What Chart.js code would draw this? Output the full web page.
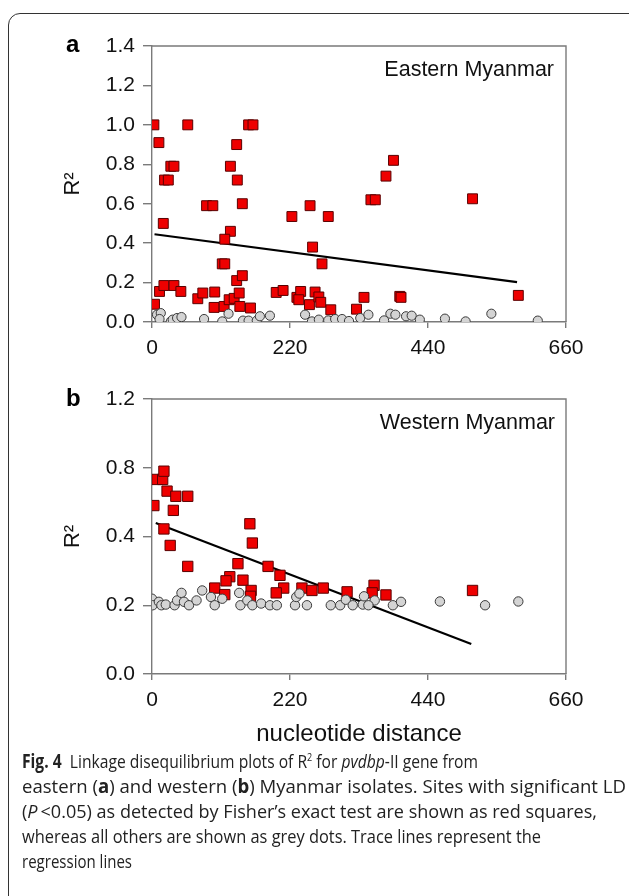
<!DOCTYPE html>
<html>
<head>
<meta charset="utf-8">
<script src="https://cdn.jsdelivr.net/npm/chart.js@4.4.1/dist/chart.umd.min.js"></script>
<style>
    body { margin: 0; background: #fff; width: 629px; height: 896px; overflow: hidden; position: relative; }
    .frame { position: absolute; left: 8px; top: 13px; width: 700px; height: 1000px; border: 1.5px solid #333; border-radius: 12px; }
    canvas { position: absolute; left: 0; }
    .panel { position: absolute; font-family: 'Liberation Sans', Arial, sans-serif; font-weight: bold; font-size: 24px; line-height: 28px; }
    .inset { position: absolute; font-family: 'Liberation Sans', Arial, sans-serif; font-size: 21.5px; line-height: 24px; color: #111; white-space: nowrap; }
    .caption { position: absolute; left: 22px; top: 749px; font-family: 'Open Sans', 'Noto Sans', sans-serif; font-size: 19px; line-height: 25px; color: #222; white-space: nowrap; }
    .caption span { display: block; transform-origin: 0 50%; width: max-content; }
    .caption sup { font-size: 11px; line-height: 0; }
</style>
</head>
<body>
<div class="frame"></div>
<canvas id="chartA" width="629" height="360" style="top:0"></canvas>
<canvas id="chartB" width="629" height="400" style="top:360px"></canvas>
<div class="panel" style="left:66px;top:30px">a</div>
<div class="panel" style="left:66px;top:384px">b</div>
<div class="inset" style="right:75px;top:57px">Eastern Myanmar</div>
<div class="inset" style="right:74px;top:410px">Western Myanmar</div>
<div class="caption">
    <span data-end="478"><b>Fig. 4</b>&nbsp; Linkage disequilibrium plots of R<sup>2</sup> for <i>pvdbp</i>-II gene from</span>
    <span data-end="626">eastern (<b>a</b>) and western (<b>b</b>) Myanmar isolates. Sites with significant LD</span>
    <span data-end="597">(<i>P</i>&thinsp;&lt;0.05) as detected by Fisher’s exact test are shown as red squares,</span>
    <span data-end="541">whereas all others are shown as grey dots. Trace lines represent the</span>
    <span data-end="132">regression lines</span>
</div>
<script>
// x axis (shared)
const xTickValues = [0, 220, 440, 660];

// panel a - eastern Myanmar
const yTickValuesA = [0, 0.2, 0.4, 0.6, 0.8, 1.0, 1.2, 1.4];
const yTickLabelsA = ['0.0', '0.2', '0.4', '0.6', '0.8', '1.0', '1.2', '1.4'];

// significant LD (red squares)
const eastSigDist = [3, 11, 20, 26, 30, 35, 18, 57, 154, 161, 135, 125, 136, 87, 97, 144, 125, 116, 112, 116, 135, 144,
    223, 252, 281, 256, 271, 349, 356, 373, 385, 511, 584, 395, 397, 338, 326, 285,
    4, 12, 19, 35, 46, 73, 81, 100, 99, 115, 123, 131, 139, 140, 157, 198, 209, 231, 237, 234, 251, 260, 266, 269];
const eastSigR2 = [1.0, 0.91, 0.72, 0.72, 0.79, 0.79, 0.50, 1.0, 1.0, 1.0, 0.90, 0.79, 0.72, 0.59, 0.59, 0.60, 0.46, 0.42, 0.295, 0.295, 0.21, 0.235,
    0.535, 0.59, 0.535, 0.38, 0.295, 0.62, 0.62, 0.74, 0.82, 0.625, 0.135, 0.13, 0.125, 0.125, 0.065, 0.062,
    0.09, 0.155, 0.185, 0.185, 0.155, 0.118, 0.147, 0.152, 0.074, 0.079, 0.113, 0.12, 0.147, 0.079, 0.071, 0.15, 0.16, 0.125, 0.155, 0.113, 0.088, 0.152, 0.127, 0.10];

// other sites (grey dots)
const eastNsDist = [8, 14, 12, 30, 33, 40, 47, 83, 112, 122, 145, 154, 167, 172, 188, 244, 255, 266, 281, 292, 303, 314,
    332, 345, 370, 380, 388, 405, 414, 427, 467, 500, 541, 615];
const eastNsR2 = [0.037, 0.045, 0.015, 0.003, 0.012, 0.02, 0.025, 0.015, 0.003, 0.042, 0.007, 0.007, 0.007, 0.029, 0.032, 0.037, 0.003, 0.012, 0.008, 0.015, 0.015, 0.005,
    0.02, 0.037, 0.008, 0.042, 0.037, 0.029, 0.032, 0.012, 0.017, 0.003, 0.042, 0.007];

// regression line
const eastFitDist = [4, 582];
const eastFitR2 = [0.445, 0.202];

// panel b - western Myanmar (axis labels as printed in the figure)
const yTickValuesB = [0, 0.2, 0.4, 0.6, 0.8];
const yTickLabelsB = ['0.0', '0.2', '0.4', '0.8', '1.2'];

const westSigDist = [3, 8, 17, 19, 24, 38, 57, 34, 19, 29, 57, 156, 160, 137, 124, 118, 100, 145, 158, 157, 185, 204, 210, 198,
    239, 255, 273, 311, 354, 351, 373, 511, 116];
const westSigR2 = [0.49, 0.566, 0.566, 0.59, 0.532, 0.517, 0.517, 0.476, 0.422, 0.374, 0.313, 0.437, 0.381, 0.321, 0.283, 0.271, 0.25, 0.273, 0.243, 0.226, 0.313, 0.287, 0.25, 0.236,
    0.25, 0.243, 0.25, 0.239, 0.258, 0.236, 0.23, 0.243, 0.231];

const westNsDist = [0, 1, 11, 15, 22, 36, 40, 47, 51, 59, 71, 80, 94, 100, 112, 139, 141, 152, 160, 174, 188, 199, 228, 230, 235,
    247, 285, 300, 309, 320, 336, 338, 355, 345, 384, 397, 459, 531, 584];
const westNsR2 = [0.219, 0.2, 0.21, 0.2, 0.202, 0.2, 0.214, 0.236, 0.21, 0.2, 0.214, 0.243, 0.224, 0.2, 0.219, 0.236, 0.2, 0.214, 0.2, 0.205, 0.2, 0.2, 0.2, 0.224, 0.234,
    0.2, 0.2, 0.2, 0.216, 0.2, 0.202, 0.226, 0.214, 0.2, 0.2, 0.21, 0.211, 0.2, 0.211];

const westFitDist = [6, 509];
const westFitR2 = [0.439, 0.087];

const tickFont = { family: "'Liberation Sans', Arial, sans-serif", size: 21 };
const axisColor = '#7a7a7a';

// caption lines: squeeze each one to the width it has in the figure
document.querySelectorAll('.caption span').forEach(el => {
    const w = el.getBoundingClientRect().width;
    const target = Number(el.dataset.end) - 22;
    el.style.transform = `scaleX(${target / w})`;
});

function toPoints(xs, ys) {
    return xs.map((x, i) => ({ x: x, y: ys[i] }));
}

// grey frame round the plot area (top and right sides)
const framePlugin = {
    id: 'plotFrame',
    afterDraw(chart) {
        const { ctx, chartArea } = chart;
        ctx.save();
        ctx.strokeStyle = axisColor;
        ctx.lineWidth = 1.4;
        ctx.beginPath();
        ctx.moveTo(chartArea.left, chartArea.top);
        ctx.lineTo(chartArea.right, chartArea.top);
        ctx.lineTo(chartArea.right, chartArea.bottom);
        ctx.stroke();
        ctx.restore();
    }
};

function makeChart(canvasId, cfg) {
    const ctx = document.getElementById(canvasId).getContext('2d');
    return new Chart(ctx, {
        type: 'scatter',
        data: {
            datasets: [
                {
                    label: 'others',
                    data: toPoints(cfg.nsDist, cfg.nsR2),
                    pointStyle: 'circle',
                    pointRadius: cfg.dotRadius,
                    backgroundColor: '#d4d4d4',
                    borderColor: '#3a3a3a',
                    borderWidth: 1,
                    order: 0
                },
                {
                    label: 'significant',
                    data: toPoints(cfg.sigDist, cfg.sigR2),
                    pointStyle: 'rect',
                    pointRadius: cfg.squareRadius,
                    backgroundColor: '#ee0000',
                    borderColor: '#5a0000',
                    borderWidth: 1,
                    order: 1
                },
                {
                    label: 'regression',
                    data: toPoints(cfg.fitDist, cfg.fitR2),
                    showLine: true,
                    pointRadius: 0,
                    borderColor: '#000',
                    borderWidth: 2.2,
                    order: 2
                }
            ]
        },
        options: {
            responsive: false,
            animation: false,
            devicePixelRatio: 1,
            layout: { padding: { top: cfg.padTop, right: 63, left: 0, bottom: 0 } },
            plugins: { legend: { display: false }, tooltip: { enabled: false } },
            scales: {
                x: {
                    type: 'linear',
                    min: 0,
                    max: 660,
                    afterBuildTicks: s => { s.ticks = xTickValues.map(v => ({ value: v })); },
                    afterFit: s => { s.height = cfg.xHeight; },
                    grid: { drawOnChartArea: false, drawTicks: true, tickLength: 6, color: axisColor, lineWidth: 1.4 },
                    border: { display: true, color: axisColor, width: 1.4 },
                    ticks: { font: tickFont, color: '#111', padding: 8, maxRotation: 0 },
                    title: cfg.xTitle
                },
                y: {
                    type: 'linear',
                    min: 0,
                    max: cfg.yMax,
                    afterBuildTicks: s => { s.ticks = cfg.yTickValues.map(v => ({ value: v })); },
                    afterFit: s => { s.width = 152; },
                    grid: { drawOnChartArea: false, drawTicks: true, tickLength: 9, color: axisColor, lineWidth: 1.4 },
                    border: { display: true, color: axisColor, width: 1.4 },
                    ticks: {
                        font: tickFont,
                        color: '#111',
                        padding: 8,
                        callback: (v, i) => cfg.yTickLabels[i]
                    },
                    title: {
                        display: true,
                        text: 'R²',
                        color: '#111',
                        font: { family: "'Liberation Sans', Arial, sans-serif", size: 22 },
                        padding: { top: 60, bottom: 0 }
                    }
                }
            }
        },
        plugins: [framePlugin]
    });
}

makeChart('chartA', {
    sigDist: eastSigDist, sigR2: eastSigR2,
    nsDist: eastNsDist, nsR2: eastNsR2,
    fitDist: eastFitDist, fitR2: eastFitR2,
    yMax: 1.4, yTickValues: yTickValuesA, yTickLabels: yTickLabelsA,
    padTop: 46, xHeight: 38,
    dotRadius: 4.6, squareRadius: 7,
    xTitle: { display: false }
});

makeChart('chartB', {
    sigDist: westSigDist, sigR2: westSigR2,
    nsDist: westNsDist, nsR2: westNsR2,
    fitDist: westFitDist, fitR2: westFitR2,
    yMax: 0.8, yTickValues: yTickValuesB, yTickLabels: yTickLabelsB,
    padTop: 39, xHeight: 86,
    dotRadius: 4.7, squareRadius: 7.3,
    xTitle: {
        display: true,
        text: 'nucleotide distance',
        color: '#111',
        font: { family: "'Liberation Sans', Arial, sans-serif", size: 24 },
        padding: { top: 0, bottom: 11 }
    }
});
</script>
</body>
</html>
